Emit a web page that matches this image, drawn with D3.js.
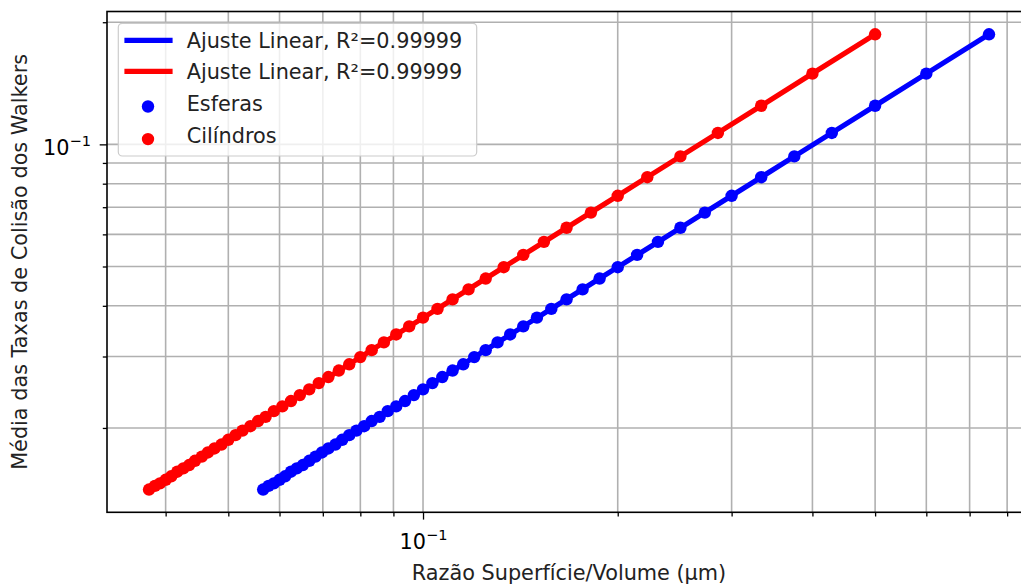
<!DOCTYPE html>
<html>
<head>
<meta charset="utf-8">
<script src="https://cdn.jsdelivr.net/npm/d3@7"></script>
<style>
  body { margin: 0; background: #fff; }
  svg { display: block; font-family: "DejaVu Sans", sans-serif; }
</style>
</head>
<body>
<svg id="chart" width="1021" height="586"></svg>
<script>
// razao superficie/volume (esferas 3/r, cilindros 2/r), r = 4..53
var razaoEsferas = [0.75, 0.6, 0.5, 0.4286, 0.375, 0.3333, 0.3, 0.2727, 0.25, 0.2308,
  0.2143, 0.2, 0.1875, 0.1765, 0.1667, 0.1579, 0.15, 0.1429, 0.1364, 0.1304,
  0.125, 0.12, 0.1154, 0.1111, 0.1071, 0.1034, 0.1, 0.0968, 0.0938, 0.0909,
  0.0882, 0.0857, 0.0833, 0.0811, 0.0789, 0.0769, 0.075, 0.0732, 0.0714, 0.0698,
  0.0682, 0.0667, 0.0652, 0.0638, 0.0625, 0.0612, 0.06, 0.0588, 0.0577, 0.0566]
var razaoCilindros = [0.5, 0.4, 0.3333, 0.2857, 0.25, 0.2222, 0.2, 0.1818, 0.1667, 0.1538,
  0.1429, 0.1333, 0.125, 0.1176, 0.1111, 0.1053, 0.1, 0.0952, 0.0909, 0.087,
  0.0833, 0.08, 0.0769, 0.0741, 0.0714, 0.069, 0.0667, 0.0645, 0.0625, 0.0606,
  0.0588, 0.0571, 0.0556, 0.0541, 0.0526, 0.0513, 0.05, 0.0488, 0.0476, 0.0465,
  0.0455, 0.0444, 0.0435, 0.0426, 0.0417, 0.0408, 0.04, 0.0392, 0.0385, 0.0377]
var taxaEsferas = [0.1868, 0.1494, 0.1245, 0.1067, 0.0934, 0.083, 0.0747, 0.0679, 0.0623, 0.0575,
  0.0534, 0.0498, 0.0467, 0.0439, 0.0415, 0.0393, 0.0374, 0.0356, 0.034, 0.0325,
  0.0311, 0.0299, 0.0287, 0.0277, 0.0267, 0.0258, 0.0249, 0.0241, 0.0233, 0.0226,
  0.022, 0.0213, 0.0208, 0.0202, 0.0197, 0.0192, 0.0187, 0.0182, 0.0178, 0.0174,
  0.017, 0.0166, 0.0162, 0.0159, 0.0156, 0.0152, 0.0149, 0.0146, 0.0144, 0.0141]
var taxaCilindros = [0.1868, 0.1494, 0.1245, 0.1067, 0.0934, 0.083, 0.0747, 0.0679, 0.0623, 0.0575,
  0.0534, 0.0498, 0.0467, 0.0439, 0.0415, 0.0393, 0.0374, 0.0356, 0.034, 0.0325,
  0.0311, 0.0299, 0.0287, 0.0277, 0.0267, 0.0258, 0.0249, 0.0241, 0.0233, 0.0226,
  0.022, 0.0213, 0.0208, 0.0202, 0.0197, 0.0192, 0.0187, 0.0182, 0.0178, 0.0174,
  0.017, 0.0166, 0.0162, 0.0159, 0.0156, 0.0152, 0.0149, 0.0146, 0.0144, 0.0141]

var xMajor = [0.1]
var xMinor = [0.04, 0.05, 0.06, 0.07, 0.08, 0.09, 0.2, 0.3, 0.4, 0.5, 0.6, 0.7, 0.8]
var yMajor = [0.1]
var yMinor = [0.02, 0.03, 0.04, 0.05, 0.06, 0.07, 0.08, 0.09, 0.2]

var legendLabels = ['Ajuste Linear, R\u00b2=0.99999', 'Ajuste Linear, R\u00b2=0.99999', 'Esferas', 'Cil\u00edndros']
var xLabel = 'Raz\u00e3o Superf\u00edcie/Volume (\u03bcm)'
var yLabel = 'M\u00e9dia das Taxas de Colis\u00e3o dos Walkers'

var mLeft = 107, mRight = 1031, mTop = 11.5, mBottom = 512.3
var W = mRight - mLeft, H = mBottom - mTop
var fs = 20.8

var svg = d3.select('#chart')

// limites log com margem de 5% como o matplotlib
function logLims(arr) {
  var lo = Math.log10(d3.min(arr)), hi = Math.log10(d3.max(arr))
  var m = (hi - lo) * 0.05
  return [Math.pow(10, lo - m), Math.pow(10, hi + m)]
}

var x = d3.scaleLog().domain(logLims(razaoEsferas.concat(razaoCilindros))).range([0, W])
var y = d3.scaleLog().domain(logLims(taxaEsferas.concat(taxaCilindros))).range([H, 0])

var g = svg.append('g').attr('transform', 'translate(' + mLeft + ',' + mTop + ')')

// grid (major + minor)
var gridX = xMajor.concat(xMinor), gridY = yMajor.concat(yMinor)
g.append('g').selectAll('line').data(gridX).enter().append('line')
  .attr('x1', d => x(d)).attr('x2', d => x(d)).attr('y1', 0).attr('y2', H)
  .attr('stroke', '#b0b0b0').attr('stroke-width', 1.6)
g.append('g').selectAll('line').data(gridY).enter().append('line')
  .attr('y1', d => y(d)).attr('y2', d => y(d)).attr('x1', 0).attr('x2', W)
  .attr('stroke', '#b0b0b0').attr('stroke-width', 1.6)

// ajuste linear em log-log
function ajuste(xs, ys) {
  var lx = xs.map(Math.log10), ly = ys.map(Math.log10)
  var mx = d3.mean(lx), my = d3.mean(ly)
  var num = d3.sum(lx, (v, i) => (v - mx) * (ly[i] - my))
  var den = d3.sum(lx, v => (v - mx) * (v - mx))
  var b = num / den, a = my - b * mx
  return xs.map(v => [v, Math.pow(10, a + b * Math.log10(v))])
}

var series = [
  { xs: razaoEsferas, ys: taxaEsferas, color: '#0000ff' },
  { xs: razaoCilindros, ys: taxaCilindros, color: '#ff0000' }
]

// pontos (abaixo das linhas)
series.forEach(function(s) {
  g.append('g').selectAll('circle').data(s.xs).enter().append('circle')
    .attr('cx', d => x(d))
    .attr('cy', (d, i) => y(s.ys[i]))
    .attr('r', 6.2)
    .attr('fill', s.color)
})

var line = d3.line().x(d => x(d[0])).y(d => y(d[1]))
series.forEach(function(s) {
  g.append('path').datum(ajuste(s.xs, s.ys))
    .attr('d', line)
    .attr('fill', 'none')
    .attr('stroke', s.color)
    .attr('stroke-width', 5.2)
    .attr('stroke-linecap', 'square')
})

// eixos
var xAxisMajor = g.append('g').attr('transform', 'translate(0,' + H + ')')
  .call(d3.axisBottom(x).tickValues(xMajor).tickSize(7.3).tickPadding(7.3).tickFormat(''))
var xAxisMinor = g.append('g').attr('transform', 'translate(0,' + H + ')')
  .call(d3.axisBottom(x).tickValues(xMinor).tickSize(4.2).tickFormat(''))
var yAxisMajor = g.append('g')
  .call(d3.axisLeft(y).tickValues(yMajor).tickSize(7.3).tickPadding(7.3).tickFormat(''))
var yAxisMinor = g.append('g')
  .call(d3.axisLeft(y).tickValues(yMinor).tickSize(4.2).tickFormat(''))

g.selectAll('.domain').remove()
g.selectAll('.tick line').attr('stroke', '#000').attr('stroke-width', 1.3)

// spines
g.append('rect').attr('x', 0).attr('y', 0).attr('width', W).attr('height', H)
  .attr('fill', 'none').attr('stroke', '#000').attr('stroke-width', 1.6)

function potencia(sel) {
  sel.append('tspan').text('10')
  sel.append('tspan').attr('dy', -9).attr('font-size', fs * 0.7).text('\u22121')
}

xAxisMajor.selectAll('.tick').each(function() {
  var t = d3.select(this).select('text')
  t.text(null).attr('y', 0).attr('dy', null)
    .attr('transform', 'translate(0,37)')
    .attr('text-anchor', 'middle').attr('font-size', fs).attr('fill', '#000')
    .attr('font-family', '"DejaVu Sans", sans-serif')
  potencia(t)
})
yAxisMajor.selectAll('.tick').each(function() {
  var t = d3.select(this).select('text')
  t.text(null).attr('x', 0).attr('dy', null)
    .attr('transform', 'translate(-16,10)')
    .attr('text-anchor', 'end').attr('font-size', fs).attr('fill', '#000')
    .attr('font-family', '"DejaVu Sans", sans-serif')
  potencia(t)
})

// titulos dos eixos
svg.append('text').attr('x', mLeft + W / 2).attr('y', 580)
  .attr('text-anchor', 'middle').attr('font-size', fs).attr('fill', '#222').text(xLabel)
svg.append('text').attr('transform', 'translate(27,' + (mTop + H / 2) + ') rotate(-90)')
  .attr('text-anchor', 'middle').attr('font-size', fs).attr('fill', '#222').text(yLabel)

// legenda
var leg = svg.append('g')
leg.append('rect').attr('x', 118.3).attr('y', 23.3).attr('width', 358.4).attr('height', 132.7)
  .attr('rx', 4).attr('fill', '#fff').attr('fill-opacity', 0.8)
  .attr('stroke', '#cccccc').attr('stroke-width', 1.2)

var legBase = [47.7, 78.6, 110.7, 143.3]
var legColors = ['#0000ff', '#ff0000', '#0000ff', '#ff0000']
legendLabels.forEach(function(lbl, i) {
  if (i < 2) {
    leg.append('line').attr('x1', 127).attr('x2', 170)
      .attr('y1', legBase[i] - 7.3).attr('y2', legBase[i] - 7.3)
      .attr('stroke', legColors[i]).attr('stroke-width', 5.2).attr('stroke-linecap', 'square')
  } else {
    leg.append('circle').attr('cx', 148).attr('cy', legBase[i] - 4.2).attr('r', 6.2)
      .attr('fill', legColors[i])
  }
  leg.append('text').attr('x', 186.7).attr('y', legBase[i])
    .attr('font-size', fs).attr('fill', '#222').text(lbl)
})
</script>
</body>
</html>
